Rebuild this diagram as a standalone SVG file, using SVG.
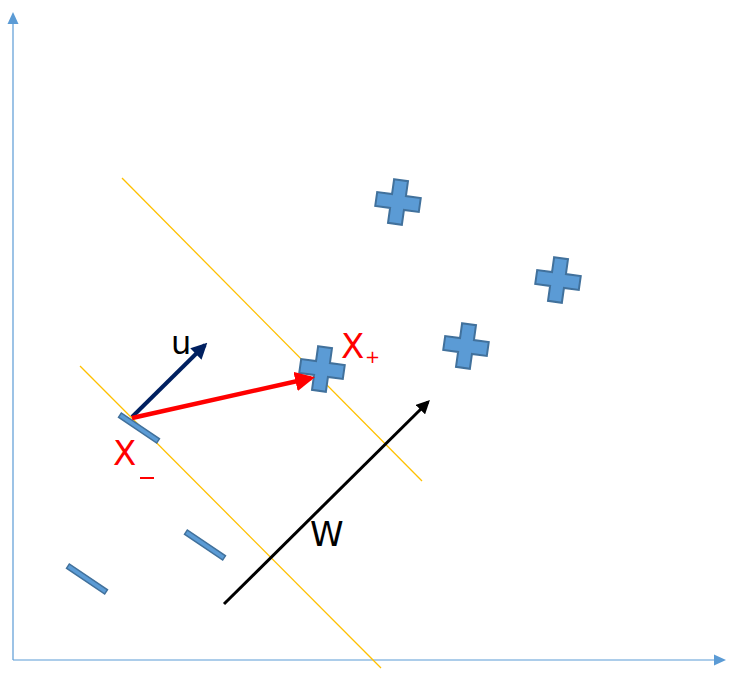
<svg xmlns="http://www.w3.org/2000/svg" width="739" height="674" viewBox="0 0 739 674">
<defs>
<style>
.axis{stroke:#5b9bd5;stroke-width:1.2;fill:none}
.yl{stroke:#ffc000;stroke-width:1.3;fill:none}
.plus{fill:#5b9bd5;stroke:#41719c;stroke-width:2}
.minus{fill:#5b9bd5;stroke:#41719c;stroke-width:1.5}
.lbl{font-family:"DejaVu Sans","Liberation Sans",sans-serif}
</style>
<polygon id="p" points="-7,-22 7,-22 7,-7 22,-7 22,7 7,7 7,22 -7,22 -7,7 -22,7 -22,-7 -7,-7"/>
<marker id="mn" viewBox="0 0 10 10" refX="8" refY="5" markerWidth="4" markerHeight="4" orient="auto"><path d="M0,0 L10,5 L0,10 z" fill="#002060"/></marker>
<marker id="mr" viewBox="0 0 10 10" refX="8" refY="5" markerWidth="4.4" markerHeight="4.4" orient="auto"><path d="M0,0 L10,5 L0,10 z" fill="#ff0000"/></marker>
<marker id="mk" viewBox="0 0 10 10" refX="8" refY="5" markerWidth="4.5" markerHeight="4.5" orient="auto"><path d="M0,0 L10,5 L0,10 z" fill="#000"/></marker>
</defs>
<g id="axes">
<line class="axis" x1="13" y1="660" x2="13" y2="22"/>
<polygon points="13,12 7.5,24 18.5,24" fill="#5b9bd5"/>
<line class="axis" x1="13" y1="660" x2="716" y2="660"/>
<polygon points="726,660 714,654.5 714,665.5" fill="#5b9bd5"/>
</g>
<g id="margins">
<line class="yl" x1="122" y1="178" x2="422" y2="481"/>
<line class="yl" x1="80" y1="366" x2="381" y2="668"/>
</g>
<g id="plus1"><use href="#p" class="plus" transform="translate(398,202) rotate(8)"/></g>
<g id="plus2"><use href="#p" class="plus" transform="translate(558,280) rotate(8)"/></g>
<g id="plus3"><use href="#p" class="plus" transform="translate(466,346) rotate(8)"/></g>
<g id="plus4"><use href="#p" class="plus" transform="translate(322,369) rotate(8)"/></g>
<g id="minus1"><rect class="minus" x="-23" y="-2.5" width="46" height="5" transform="translate(139,428) rotate(34)"/></g>
<g id="minus2"><rect class="minus" x="-23" y="-2.5" width="46" height="5" transform="translate(205,545) rotate(34)"/></g>
<g id="minus3"><rect class="minus" x="-23" y="-2.5" width="46" height="5" transform="translate(87,579) rotate(34)"/></g>
<g id="connectors">
<line x1="132" y1="417" x2="205" y2="345" stroke="#002060" stroke-width="4" marker-end="url(#mn)"/>
<line x1="132" y1="418" x2="311" y2="378" stroke="#ff0000" stroke-width="4.5" marker-end="url(#mr)"/>
<line x1="224" y1="604" x2="428" y2="402" stroke="#000" stroke-width="3" marker-end="url(#mk)"/>
</g>
<g id="labels" class="lbl">
<text x="171" y="354" font-size="32" fill="#000">u</text>
<text x="341" y="358" font-size="34" fill="#ff0000">X</text>
<text x="365" y="363" font-size="18" fill="#ff0000">+</text>
<text x="113" y="465" font-size="34" fill="#ff0000">X</text>
<rect x="140" y="477" width="14" height="2" fill="#ff0000"/>
<text x="310" y="546" font-size="34" fill="#000">W</text>
</g>
</svg>
